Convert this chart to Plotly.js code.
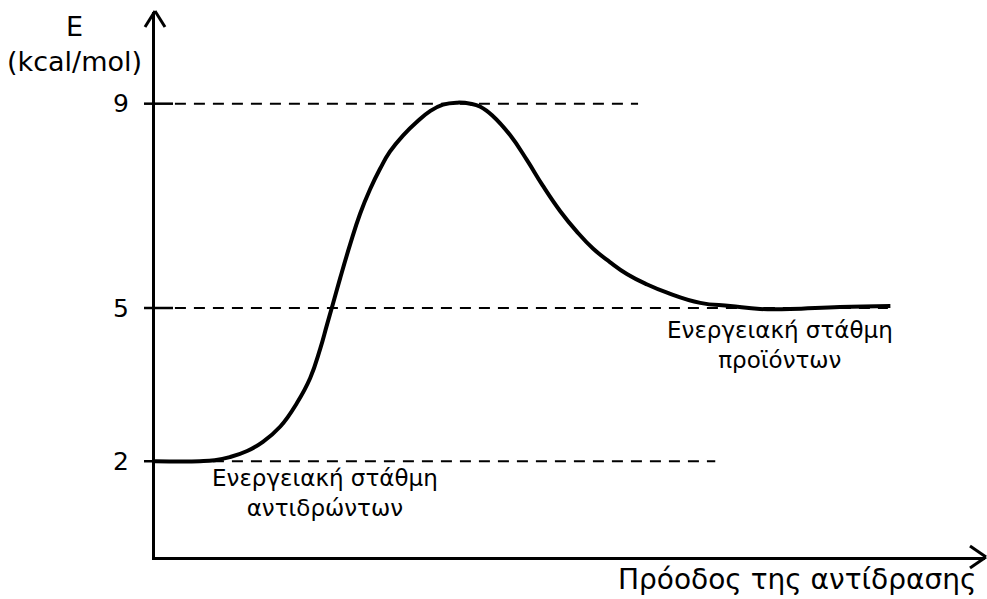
<!DOCTYPE html>
<html>
<head>
<meta charset="utf-8">
<script src="https://cdn.plot.ly/plotly-3.0.1.min.js"></script>
<style>html,body{margin:0;padding:0;background:#fff;}#chart{width:987px;height:599px;}</style>
</head>
<body>
<div id="chart"></div>
<script>
// Reaction progress (arbitrary units) and energy (kcal/mol) along the curve
const progress = [0, 5.4, 7.2, 9.0, 11.1, 13.0, 15.1, 17.1, 18.7, 19.9, 20.7, 21.4, 22.3, 23.5, 24.7, 25.9, 27.1, 28.3, 29.9, 31.6, 33.1, 34.7, 36.4, 38.0, 39.2, 40.7, 42.8, 44.8, 46.7, 48.8, 50.8, 52.8, 54.8, 56.9, 59.3, 61.7, 65.7, 69.3, 72.9, 76.5, 82.5, 88.6];
const energy   = [2.00, 2.00, 2.02, 2.08, 2.20, 2.38, 2.68, 3.14, 3.63, 4.20, 4.66, 5.06, 5.58, 6.24, 6.84, 7.32, 7.72, 8.06, 8.38, 8.65, 8.85, 8.98, 9.02, 9.00, 8.94, 8.76, 8.38, 7.90, 7.40, 6.90, 6.50, 6.16, 5.90, 5.66, 5.46, 5.30, 5.10, 5.04, 4.98, 4.98, 5.02, 5.04];

// Reference energy levels and where their dashed guides end
const levels     = [2, 5, 9];
const levelEnds  = [67.5, 88.3, 58.2];
const levelStart = 2.4;
const tickLabels = ['2', '5', '9'];

const yTitle = 'E<br>(kcal/mol)';
const xTitle = 'Πρόοδος της αντίδρασης';
const reactantLabel = 'Ενεργειακή στάθμη<br>αντιδρώντων';
const productLabel  = 'Ενεργειακή στάθμη<br>προϊόντων';
const reactantPos = [20.5, 1.38];
const productPos  = [75.3, 4.28];

const FONT = 'DejaVu Sans, sans-serif';

const traces = [];
levels.forEach((lv, i) => {
  traces.push({
    x: [levelStart, levelEnds[i]], y: [lv, lv],
    mode: 'lines', line: {color: '#000', width: 2, dash: '11px,8px'},
    hoverinfo: 'skip', showlegend: false
  });
});
traces.push({
  x: progress, y: energy, mode: 'lines',
  line: {color: '#000', width: 4, shape: 'spline', smoothing: 1.3},
  showlegend: false
});

const shapes = [];
// short solid tick marks crossing the vertical axis
levels.forEach(lv => {
  shapes.push({type: 'line', xref: 'paper', yref: 'y', xsizemode: 'pixel', xanchor: 0,
    x0: -11, x1: 18, y0: lv, y1: lv, line: {color: '#000', width: 2.5}});
});
// open arrow heads
const arrowStyle = {color: '#000', width: 3};
shapes.push({type: 'line', xref: 'paper', yref: 'paper', xsizemode: 'pixel', ysizemode: 'pixel',
  xanchor: 0, yanchor: 1, x0: -10, y0: -15, x1: 0, y1: 1, line: arrowStyle});
shapes.push({type: 'line', xref: 'paper', yref: 'paper', xsizemode: 'pixel', ysizemode: 'pixel',
  xanchor: 0, yanchor: 1, x0: 10, y0: -15, x1: 0, y1: 1, line: arrowStyle});
shapes.push({type: 'line', xref: 'paper', yref: 'paper', xsizemode: 'pixel', ysizemode: 'pixel',
  xanchor: 1, yanchor: 0, x0: -15, y0: 11, x1: 1, y1: 0, line: arrowStyle});
shapes.push({type: 'line', xref: 'paper', yref: 'paper', xsizemode: 'pixel', ysizemode: 'pixel',
  xanchor: 1, yanchor: 0, x0: -15, y0: -11, x1: 1, y1: 0, line: arrowStyle});

const annotations = [
  {text: yTitle, xref: 'paper', yref: 'paper', x: -0.0964, y: 0.941, xanchor: 'center', yanchor: 'middle',
   showarrow: false, font: {family: FONT, size: 27, color: '#000'}},
  {text: xTitle, xref: 'paper', yref: 'paper', x: 0.9916, y: -0.042, xanchor: 'right', yanchor: 'middle',
   showarrow: false, font: {family: FONT, size: 28, color: '#000'}},
  {text: reactantLabel, x: reactantPos[0], y: reactantPos[1], xanchor: 'center', yanchor: 'middle',
   showarrow: false, font: {family: FONT, size: 23, color: '#000'}},
  {text: productLabel, x: productPos[0], y: productPos[1], xanchor: 'center', yanchor: 'middle',
   showarrow: false, font: {family: FONT, size: 23, color: '#000'}}
];

const layout = {
  width: 987, height: 599,
  margin: {l: 155, r: 2, t: 12, b: 42, pad: 0},
  paper_bgcolor: '#fff', plot_bgcolor: '#fff',
  showlegend: false,
  xaxis: {range: [0, 100], showline: true, linewidth: 3, linecolor: '#000',
    showgrid: false, zeroline: false, showticklabels: false, ticks: ''},
  yaxis: {range: [0.125, 10.795], showline: true, linewidth: 3, linecolor: '#000',
    showgrid: false, zeroline: false, ticks: '', tickvals: levels, ticktext: tickLabels,
    ticklabelstandoff: 18, tickfont: {family: FONT, size: 25, color: '#000'}},
  shapes: shapes,
  annotations: annotations
};

Plotly.newPlot('chart', traces, layout, {displayModeBar: false, staticPlot: true});
</script>
</body>
</html>
